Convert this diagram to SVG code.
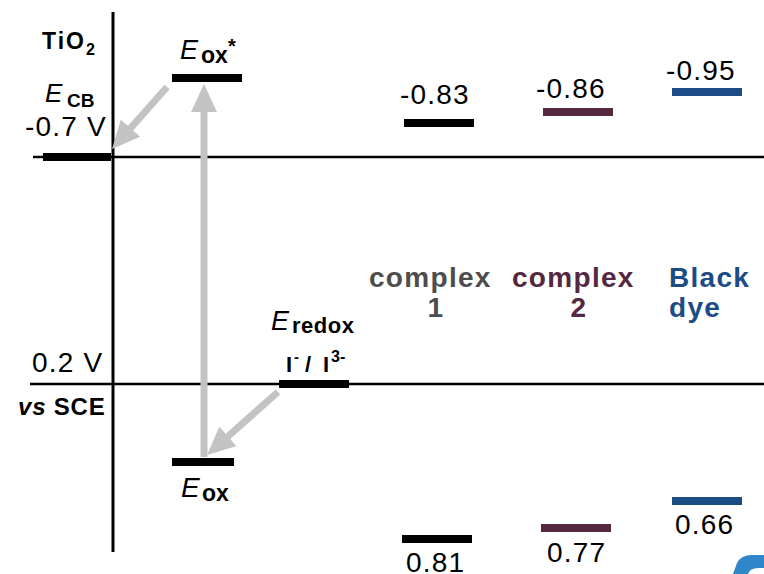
<svg xmlns="http://www.w3.org/2000/svg" width="764" height="574" viewBox="0 0 764 574">
<style>
.num{font-family:"Liberation Sans",Arial,sans-serif;font-size:28px;letter-spacing:1.2px;fill:#000}
.b{font-family:"Liberation Sans",Arial,sans-serif;font-weight:bold;fill:#000}
.it{font-family:"Liberation Sans",Arial,sans-serif;font-style:italic;fill:#000}
.lbl{font-family:"Liberation Sans",Arial,sans-serif;font-weight:bold;font-size:28px;letter-spacing:1.3px}
.ax{stroke:#000;stroke-width:2.5;fill:none}
.arr{stroke:#c3c3c3;stroke-width:7;fill:none;marker-end:url(#ah)}
</style>
<defs>
<marker id="ah" markerUnits="userSpaceOnUse" markerWidth="30" markerHeight="26" refX="8" refY="13" orient="auto">
<path d="M0,0 L28,13 L0,26 Z" fill="#c3c3c3"/>
</marker>
</defs>
<rect width="764" height="574" fill="#fff"/>
<g id="axes">
<line class="ax" x1="113" y1="12" x2="113" y2="552" style="stroke-width:3"/>
<line class="ax" x1="33" y1="157" x2="764" y2="157"/>
<line class="ax" x1="30" y1="384" x2="764" y2="384"/>
</g>
<g id="connectors">
<line class="arr" x1="167" y1="87" x2="125.3" y2="134.1"/>
<line class="arr" x1="204" y1="457" x2="204" y2="104"/>
<line class="arr" x1="278" y1="392" x2="222" y2="441.7"/>
</g>
<g id="tio2">
<rect x="43" y="153" width="68" height="8" fill="#000"/>
<text class="b" x="42" y="49" font-size="23" letter-spacing="2">TiO</text>
<text class="b" x="86" y="55" font-size="16">2</text>
<text class="it" x="45" y="102" font-size="26">E</text>
<text class="b" x="67" y="107" font-size="19">CB</text>
<text class="num" x="25" y="136">-0.7 V</text>
</g>
<g id="ref">
<text class="num" x="32" y="372">0.2 V</text>
<text class="b" x="18" y="415" font-size="24" letter-spacing="0.8"><tspan font-style="italic">vs</tspan> SCE</text>
</g>
<g id="eox-star">
<rect x="172" y="74" width="70" height="8" fill="#000"/>
<text class="it" x="180" y="59" font-size="27">E</text>
<text class="b" x="201" y="63" font-size="23">ox</text>
<text class="b" x="228" y="53" font-size="20">*</text>
</g>
<g id="eox">
<rect x="172" y="458" width="62" height="8" fill="#000"/>
<text class="it" x="181" y="497" font-size="28">E</text>
<text class="b" x="202" y="501" font-size="23">ox</text>
</g>
<g id="eredox">
<rect x="279" y="380" width="70" height="8" fill="#000"/>
<text class="it" x="271" y="330" font-size="27">E</text>
<text class="b" x="292" y="333" font-size="22" letter-spacing="0.5">redox</text>
<text class="b" x="286" y="372" font-size="22">I</text>
<text class="b" x="294" y="362" font-size="15">-</text>
<text class="b" x="305" y="372" font-size="22">/</text>
<text class="b" x="323" y="372" font-size="22">I</text>
<text class="b" x="331" y="362" font-size="16">3-</text>
</g>
<g id="complex1">
<rect x="404" y="119" width="70" height="8" fill="#000"/>
<rect x="402" y="535" width="70" height="8" fill="#000"/>
<text class="num" x="400" y="104">-0.83</text>
<text class="num" x="406" y="572">0.81</text>
<text class="lbl" x="369" y="287" fill="#4d4d4d">complex</text>
<text class="lbl" x="436" y="317" fill="#4d4d4d" text-anchor="middle">1</text>
</g>
<g id="complex2">
<rect x="543" y="108" width="70" height="8" fill="#54283f"/>
<rect x="541" y="524" width="70" height="8" fill="#54283f"/>
<text class="num" x="536" y="98">-0.86</text>
<text class="num" x="547" y="562">0.77</text>
<text class="lbl" x="512" y="287" fill="#54283f">complex</text>
<text class="lbl" x="579" y="317" fill="#54283f" text-anchor="middle">2</text>
</g>
<g id="blackdye">
<rect x="672" y="88" width="70" height="8" fill="#1b4c85"/>
<rect x="672" y="497" width="70" height="8" fill="#1b4c85"/>
<text class="num" x="666" y="80">-0.95</text>
<text class="num" x="675" y="534">0.66</text>
<text class="lbl" x="669" y="287" fill="#1b4c85" letter-spacing="0.8">Black</text>
<text class="lbl" x="669" y="317" fill="#1b4c85" letter-spacing="0.8">dye</text>
</g>
<path d="M733,574 L737,563 Q741,555 752,555 L764,555 L764,568 L758,568 Q750,568 748,574 Z" fill="#2f87c9"/>
</svg>
